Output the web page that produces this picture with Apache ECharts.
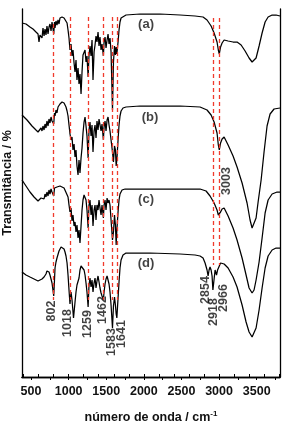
<!DOCTYPE html>
<html><head><meta charset="utf-8">
<script src="https://cdn.jsdelivr.net/npm/echarts@6/dist/echarts.min.js"></script>
<style>html,body{margin:0;padding:0;background:#fff}#c{width:291px;height:426px}</style>
</head><body><div id="c"></div>
<script>
// x: wavenumber (cm-1); y: transmittance (arbitrary offset units)
const aWn=[380,433,486,526,566,593,606,619,633,646,659,673,686,699,712,726,739,752,766,779,802,812,819,832,845,859,872,885,912,925,939,952,965,979,992,1005,1018,1032,1045,1058,1072,1085,1098,1111,1125,1138,1151,1165,1178,1191,1205,1218,1231,1244,1259,1271,1284,1298,1311,1324,1338,1351,1364,1377,1391,1404,1417,1431,1444,1462,1471,1484,1497,1511,1524,1537,1550,1564,1583,1596,1610,1622,1632,1641,1657,1670,1683,1697,1723,1763,1949,2215,2481,2681,2787,2840,2894,2934,2973,2990,3003,3020,3040,3067,3120,3186,3239,3293,3346,3399,3439,3465,3492,3532,3572,3612,3652,3705,3758,3810];
const aT=[354,353,350,348,345,343,335,342,344,339,349,341,348,342,351,343,350,353,346,355,343,355,349,356,352,357,353,359,360,358,359,357,358,354,347,339,327,333,321,327,314,305,317,297,309,293,303,283,305,322,324,327,315,321,300,322,331,321,337,297,325,332,341,335,345,331,340,327,333,321,335,340,329,337,343,333,339,325,267,315,331,322,330,323,335,347,355,359,361,362,363,363,362,361,360,357,351,344,335,327,323,330,334,337,336,335,335,332,326,319,315,315,319,331,344,355,360,362,362,361];

const bWn=[380,447,513,566,593,619,633,646,659,673,686,699,712,726,739,752,766,779,802,812,819,832,845,859,885,912,939,965,979,992,1005,1018,1032,1045,1058,1072,1085,1098,1111,1125,1138,1151,1165,1178,1191,1205,1218,1231,1244,1259,1271,1284,1298,1311,1324,1338,1351,1364,1377,1391,1404,1417,1431,1444,1462,1471,1484,1497,1511,1524,1537,1550,1564,1583,1596,1610,1622,1632,1641,1657,1670,1683,1697,1723,1763,1949,2215,2481,2747,2840,2894,2934,2973,2990,3003,3020,3040,3067,3120,3186,3239,3306,3372,3412,3439,3465,3492,3519,3559,3598,3638,3678,3731,3810];
const bT=[262,257,251,247,245,244,249,246,251,247,253,249,256,251,258,254,260,256,253,264,261,267,264,270,273,275,274,270,266,261,252,243,237,240,227,233,220,227,211,202,217,204,219,229,244,255,260,251,241,219,247,255,241,252,225,246,252,239,256,247,258,259,246,253,237,250,256,246,257,260,252,246,237,225,215,231,227,211,217,237,252,261,266,269,270,271,271,271,270,267,262,255,244,232,227,234,238,240,232,221,210,194,174,157,149,151,159,175,197,225,251,263,268,269];

const cWn=[380,433,486,540,593,619,633,646,659,673,686,699,712,726,739,752,766,779,802,812,819,845,885,912,939,965,992,1005,1018,1032,1045,1058,1072,1085,1098,1111,1125,1138,1151,1165,1178,1191,1205,1218,1231,1244,1259,1271,1284,1298,1311,1324,1338,1351,1364,1377,1391,1404,1417,1431,1444,1462,1471,1484,1497,1511,1524,1537,1550,1564,1583,1596,1610,1622,1632,1641,1657,1670,1683,1710,1750,2082,2481,2747,2827,2880,2934,2973,2990,3003,3020,3040,3067,3120,3186,3239,3306,3359,3399,3439,3465,3492,3532,3572,3612,3652,3705,3771,3810];
const cT=[197,191,185,180,176,175,179,177,181,178,183,180,185,181,187,183,188,185,181,189,187,190,191,190,189,187,180,172,165,169,156,162,151,155,145,152,139,147,134,151,167,177,182,184,177,167,149,172,177,162,172,151,167,172,157,172,167,177,169,162,172,159,172,177,167,179,174,177,172,157,137,145,162,152,132,147,165,177,183,187,188,188,188,188,186,181,174,167,162,160,165,168,169,161,149,137,119,102,89,84,87,97,115,139,164,177,183,185,185];

const dWn=[380,433,486,540,593,619,646,673,699,712,726,739,752,766,779,802,812,819,832,845,859,872,885,899,912,925,939,952,965,979,992,1005,1018,1032,1045,1065,1085,1098,1111,1125,1138,1151,1165,1178,1191,1205,1218,1231,1244,1259,1271,1284,1298,1311,1324,1338,1351,1364,1377,1391,1404,1417,1431,1444,1462,1471,1484,1497,1511,1524,1537,1550,1564,1583,1596,1610,1622,1632,1641,1657,1670,1683,1697,1723,1763,2082,2481,2681,2747,2787,2814,2840,2854,2867,2880,2894,2907,2918,2934,2947,2960,2966,2980,3003,3020,3040,3067,3120,3186,3239,3306,3359,3399,3439,3465,3492,3532,3572,3612,3652,3705,3758,3810];
const dT=[105,102,100,98,96,96,98,100,103,106,107,105,102,98,94,81,97,109,115,119,121,126,128,130,131,130,128,125,121,114,102,87,73,85,77,59,75,85,92,94,99,107,111,113,112,107,102,94,85,70,92,99,90,97,85,94,99,89,96,101,95,89,84,81,77,85,93,98,101,99,93,85,72,49,71,80,72,63,59,79,95,109,117,122,124,124,123,122,121,119,114,107,101,107,110,107,101,87,98,107,105,102,107,111,114,115,113,109,100,90,72,55,45,40,42,49,67,89,109,121,127,129,129];

// axis ticks / labels
const xLabelValues=[500,1000,1500,2000,2500,3000,3500];
const xTickValues=[500,750,1000,1250,1500,1750,2000,2250,2500,2750,3000,3250,3500,3750];
const xTopTickValues=[400,600,800,1000,1200,1400,1600,1800,2000,2200,2400,2600,2800,3000,3200,3400,3600,3800];

// dashed reference lines: wavenumber, top, bottom (transmittance units)
const refWn=[802,1018,1259,1462,1583,1641,2918,3003];
const refTop=[360,360,360,360,360,360,359,359];
const refBottom=[77,77,77,77,77,77,112,112];

// peak annotations (text, wavenumber, transmittance of label centre)
const peakText=['802','1018','1259','1462','1583','1641','2854','2918','2966','3003'];
const peakWn=[779,992,1258,1457,1577,1697,2814,2920,3053,3106];
const peakT=[66,54,53,67,35,43,87,65,79,196];

// trace tags
const tagText=['(a)','(b)','(c)','(d)'];
const tagWn=[2029,2082,2029,2029];
const tagT=[353,260,178,114];

const zip=(x,y)=>x.map((v,i)=>[v,y[i]]);
const FONT='Liberation Sans, Arial, Helvetica, sans-serif';
const chart=echarts.init(document.getElementById('c'),null,{renderer:'canvas'});
const lineS=(x,y)=>({type:'line',data:zip(x,y),showSymbol:false,symbol:'none',lineStyle:{color:'#000',width:1.25},silent:true,animation:false,z:3});
chart.setOption({
  animation:false,
  grid:{left:22,right:11,top:9,bottom:49,containLabel:false,outerBoundsMode:'none'},
  xAxis:[
    {type:'value',min:380,max:3810,position:'bottom',
     axisLine:{show:true,lineStyle:{color:'#000',width:1.3}},
     axisTick:{show:true,customValues:xTickValues,length:3,lineStyle:{color:'#000',width:1}},
     axisLabel:{show:true,customValues:xLabelValues,formatter:v=>String(v),color:'#111',fontFamily:FONT,fontWeight:'bold',fontSize:12.5,margin:8},
     splitLine:{show:false},
     name:'{a|número de onda / cm}{s|-1}',nameLocation:'middle',nameGap:33,
     nameTextStyle:{rich:{a:{fontFamily:FONT,fontWeight:'bold',fontSize:12.5,color:'#111'},s:{fontFamily:FONT,fontWeight:'bold',fontSize:8,color:'#111',padding:[0,0,7,0]}}}},
    {type:'value',min:380,max:3810,position:'top',
     axisLine:{show:true,lineStyle:{color:'#000',width:1.3}},
     axisTick:{show:true,customValues:xTopTickValues,length:3,lineStyle:{color:'#000',width:1}},
     axisLabel:{show:false},splitLine:{show:false}}
  ],
  yAxis:[
    {type:'value',min:0,max:368,position:'left',
     axisLine:{show:true,lineStyle:{color:'#000',width:1.3}},
     axisTick:{show:false},axisLabel:{show:false},splitLine:{show:false},
     name:'Transmitância / %',nameLocation:'middle',nameGap:8,nameRotate:90,
     nameTextStyle:{fontFamily:FONT,fontWeight:'bold',fontSize:12.5,color:'#111',padding:[0,0,0,20]}},
    {type:'value',min:0,max:368,position:'right',
     axisLine:{show:true,lineStyle:{color:'#000',width:1.3}},
     axisTick:{show:false},axisLabel:{show:false},splitLine:{show:false}}
  ],
  series:[
    {type:'line',data:[],silent:true,z:2,
     markLine:{silent:true,symbol:['none','none'],label:{show:false},
       lineStyle:{color:'#f03a2c',type:[4,3],width:1.3,opacity:1},
       emphasis:{disabled:true},
       data:refWn.map((w,i)=>[{coord:[w,refTop[i]]},{coord:[w,refBottom[i]]}])}},
    lineS(aWn,aT),lineS(bWn,bT),lineS(cWn,cT),lineS(dWn,dT),
    {type:'scatter',symbolSize:0,silent:true,z:5,
     data:peakText.map((t,i)=>({value:[peakWn[i],peakT[i]],name:t})),
     label:{show:true,position:'inside',rotate:90,formatter:p=>p.name,color:'#111',fontFamily:FONT,fontWeight:'bold',fontSize:12.5}},
    {type:'scatter',symbolSize:0,silent:true,z:5,
     data:tagText.map((t,i)=>({value:[tagWn[i],tagT[i]],name:t})),
     label:{show:true,position:'inside',formatter:p=>p.name,color:'#111',fontFamily:FONT,fontWeight:'bold',fontSize:13}}
  ]
});
</script></body></html>
